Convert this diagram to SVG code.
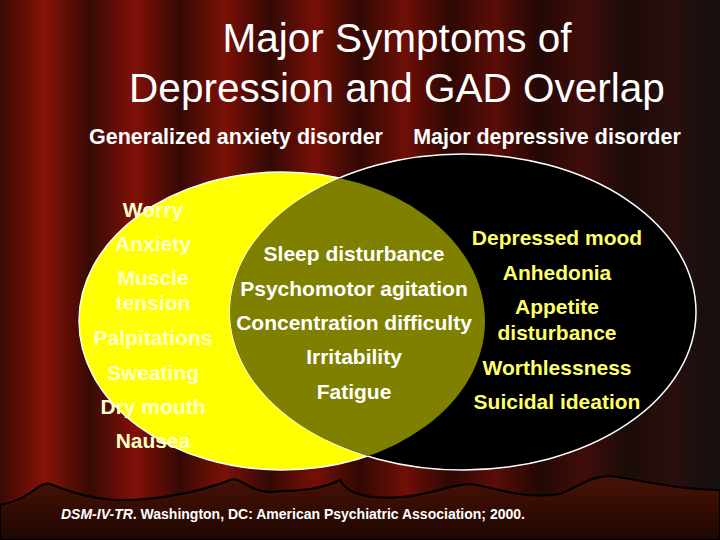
<svg xmlns="http://www.w3.org/2000/svg" width="720" height="540" viewBox="0 0 720 540">
<defs>
<linearGradient id="fold" x1="0" y1="0" x2="1" y2="0">
<stop offset="0" stop-color="#3a0a04"/><stop offset="0.5" stop-color="#8a1208"/><stop offset="1" stop-color="#3a0a04"/>
</linearGradient>
<pattern id="curtain" x="0" y="0" width="90" height="540" patternUnits="userSpaceOnUse">
<rect width="90" height="540" fill="url(#fold)"/>
</pattern>
<linearGradient id="rightShade" x1="0" y1="0" x2="1" y2="0">
<stop offset="0" stop-color="#000" stop-opacity="0"/><stop offset="0.6" stop-color="#000" stop-opacity="0.2"/><stop offset="1" stop-color="#111" stop-opacity="0.9"/>
</linearGradient>
<linearGradient id="floor" x1="0" y1="0" x2="0" y2="1">
<stop offset="0" stop-color="#4a1206"/><stop offset="1" stop-color="#1e0602"/>
</linearGradient>
<clipPath id="yclip"><ellipse cx="282" cy="321" rx="203" ry="149"/></clipPath>
<style>
.t{font-family:"Liberation Sans",Arial,sans-serif;font-weight:bold;font-size:21px;text-anchor:middle}
.w{fill:#ffffff}
.y{fill:#ffff66}
.l{fill:#ffffc8}
.h{font-family:"Liberation Sans",Arial,sans-serif;font-weight:bold;font-size:21.5px;fill:#fff;text-anchor:middle}
</style>
</defs>
<rect width="720" height="540" fill="url(#curtain)"/>
<rect width="720" height="540" fill="url(#rightShade)"/>
<path d="M0 505 C30 500 40 480 50 484 C60 488 90 500 120 500 C160 500 200 492 230 480 C240 476 250 492 270 492 C300 490 320 490 340 480 C345 490 360 500 400 497 C430 495 450 485 470 484 C500 488 520 500 560 494 C580 486 590 476 610 476 C640 480 680 490 720 490 L720 540 L0 540 Z" fill="url(#floor)" stroke="#000" stroke-width="2"/>
<text x="397" y="52" font-family="Liberation Sans,Arial,sans-serif" font-size="40.5" fill="#fff" text-anchor="middle">Major Symptoms of</text>
<text x="397" y="102" font-family="Liberation Sans,Arial,sans-serif" font-size="40.5" fill="#fff" text-anchor="middle">Depression and GAD Overlap</text>
<text x="236" y="144" class="h">Generalized anxiety disorder</text>
<text x="547" y="144" class="h">Major depressive disorder</text>
<g id="gad"><ellipse cx="282" cy="321" rx="203" ry="149" fill="#ffff00" stroke="#fff" stroke-width="1.5"/></g>
<g id="mdd"><ellipse cx="463" cy="312" rx="233" ry="158" fill="#000" stroke="#fff" stroke-width="1.5"/></g>
<g id="overlap"><ellipse cx="463" cy="312" rx="233" ry="158" fill="#808000" clip-path="url(#yclip)"/></g>
<g id="connectors"></g>
<g id="gad-labels">
<text class="t l" x="153" y="217">Worry</text>
<text class="t l" x="153" y="251">Anxiety</text>
<text class="t l" x="153" y="285">Muscle</text>
<text class="t l" x="153" y="310">tension</text>
<text class="t l" x="153" y="345">Palpitations</text>
<text class="t l" x="153" y="380">Sweating</text>
<text class="t l" x="153" y="414">Dry mouth</text>
<text class="t l" x="153" y="448">Nausea</text>
</g>
<g id="overlap-labels">
<text class="t w" x="354" y="261">Sleep disturbance</text>
<text class="t w" x="354" y="296">Psychomotor agitation</text>
<text class="t w" x="354" y="330">Concentration difficulty</text>
<text class="t w" x="354" y="364">Irritability</text>
<text class="t w" x="354" y="399">Fatigue</text>
</g>
<g id="mdd-labels">
<text class="t y" x="557" y="245">Depressed mood</text>
<text class="t y" x="557" y="280">Anhedonia</text>
<text class="t y" x="557" y="314">Appetite</text>
<text class="t y" x="557" y="340">disturbance</text>
<text class="t y" x="557" y="375">Worthlessness</text>
<text class="t y" x="557" y="409">Suicidal ideation</text>
</g>
<text x="61" y="519" font-family="Liberation Sans,Arial,sans-serif" font-weight="bold" font-size="14" fill="#fff"><tspan font-style="italic">DSM-IV-TR</tspan>.  Washington, DC: American Psychiatric Association; 2000.</text>
</svg>
